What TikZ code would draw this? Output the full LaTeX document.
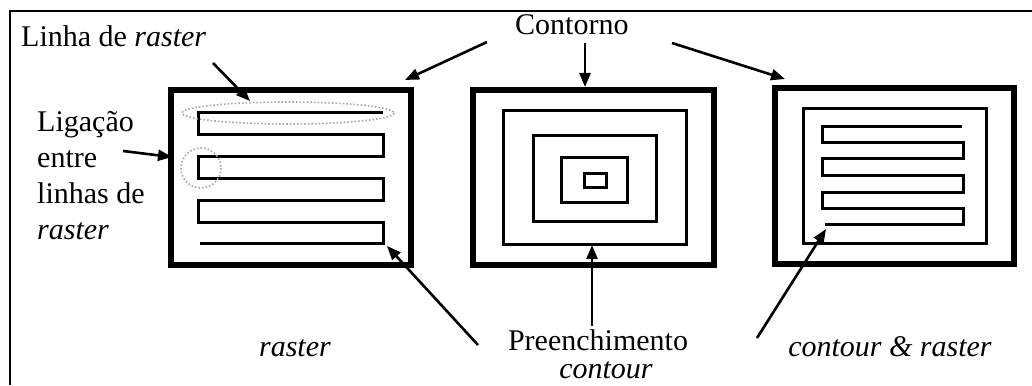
\documentclass[tikz,border=0pt]{standalone}
\usepackage{fontspec}
\setmainfont{Liberation Serif}
\usetikzlibrary{arrows.meta}
\begin{document}
\begin{tikzpicture}[x=1pt,y=-1pt,
  label/.style={inner sep=0pt,font=\fontsize{30}{36}\selectfont},
  outerwall/.style={line width=6pt,line join=miter},
  path/.style={line width=3pt,line join=miter},
  pointer/.style={line width=2.6pt,-{Triangle[length=14pt,width=11pt]}},
  guide/.style={gray!70,dotted,line width=1.6pt}]
\useasboundingbox (0,0) rectangle (1032,385);

% page frame
\draw[line width=2pt] (10,385) -- (10,11) -- (1032,11);

% --- raster strategy
\draw[outerwall] (171,90) rectangle (411,265);
\draw[path] (383,113) -- (198,113) -- (198,134) -- (383,134) -- (383,156)
  -- (198,156) -- (198,178) -- (383,178) -- (383,200) -- (198,200)
  -- (198,222) -- (383,222) -- (383,243) -- (200,243);
\draw[guide] (288,113) ellipse [x radius=106, y radius=11];
\draw[guide] (201,168) circle [radius=20];

% --- contour strategy
\draw[outerwall] (473,90) rectangle (714,265);
\draw[path] (503,111) rectangle (686,244);
\draw[path] (533,135) rectangle (656,221);
\draw[path] (561,157) rectangle (627,202);
\draw[path] (584,173) rectangle (606,187);

% --- contour & raster strategy
\draw[outerwall] (775,88) rectangle (1014,264);
\draw[path] (803,109) rectangle (986,243);
\draw[path] (962,126) -- (822,126) -- (822,142) -- (963,142) -- (963,158)
  -- (822,158) -- (822,175) -- (963,175) -- (963,192) -- (822,192)
  -- (822,208) -- (963,208) -- (963,224) -- (825,224);

% labels
\node[label,anchor=base west] (linha) at (21,47) {Linha de \textit{raster}};
\node[label,anchor=north west,align=left] (lig) at (37,111)
  {Ligação\\entre\\linhas de\\\textit{raster}};
\node[label,anchor=base west] (cont) at (515,35) {Contorno};
\node[label,anchor=base] (ras) at (295,356) {\textit{raster}};
\node[label,anchor=base] (pre) at (598,350) {Preenchimento};
\node[label,anchor=base] (con) at (606,378) {\textit{contour}};
\node[label,anchor=base] (cr) at (890,356) {\textit{contour \& raster}};

% connector ends
\coordinate (linhaS) at (213,63);   \coordinate (linhaT) at (250,101);
\coordinate (ligS) at (123,151);    \coordinate (ligT) at (172,157);
\coordinate (contL) at (487,42);    \coordinate (contLT) at (405,80);
\coordinate (contM) at (585,43);    \coordinate (contMT) at (585,87);
\coordinate (contR) at (672,43);    \coordinate (contRT) at (785,79);
\coordinate (preL) at (478,345);    \coordinate (preLT) at (387,246);
\coordinate (preM) at (592,326);    \coordinate (preMT) at (592,245);
\coordinate (preR) at (757,338);    \coordinate (preRT) at (826,229);

\draw[pointer] (linhaS) -- (linhaT);
\draw[pointer] (ligS) -- (ligT);
\draw[pointer] (contL) -- (contLT);
\draw[pointer] (contM) -- (contMT);
\draw[pointer] (contR) -- (contRT);
\draw[pointer] (preL) -- (preLT);
\draw[pointer] (preM) -- (preMT);
\draw[pointer] (preR) -- (preRT);
\end{tikzpicture}
\end{document}
